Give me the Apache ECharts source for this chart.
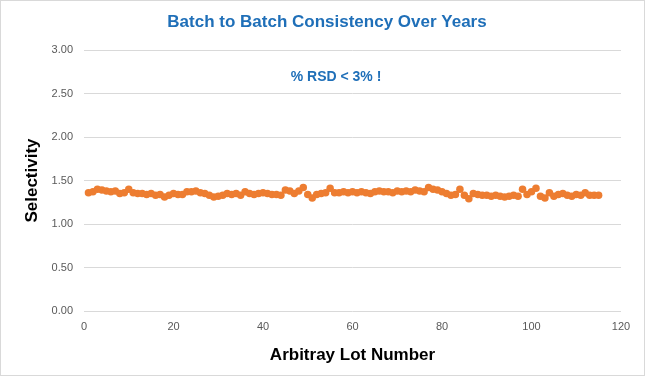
<!DOCTYPE html>
<html>
<head>
<meta charset="utf-8">
<script src="https://cdn.jsdelivr.net/npm/echarts@6/dist/echarts.min.js"></script>
<style>
  html, body { margin: 0; padding: 0; background: #fff; }
  #frame { width: 645px; height: 376px; box-sizing: border-box; border: 1px solid #d9d9d9; }
  #chart { width: 643px; height: 374px; }
</style>
</head>
<body>
<div id="frame"><div id="chart"></div></div>
<script>
// lot numbers 1..115 and the selectivity
const selectivity = [
  1.36, 1.37, 1.40, 1.39, 1.38, 1.37, 1.38, 1.35, 1.36, 1.40,
  1.36, 1.35, 1.35, 1.34, 1.35, 1.33, 1.34, 1.31, 1.33, 1.35,
  1.34, 1.34, 1.37, 1.37, 1.38, 1.36, 1.35, 1.33, 1.31, 1.32,
  1.33, 1.35, 1.34, 1.35, 1.33, 1.37, 1.35, 1.34, 1.35, 1.36,
  1.35, 1.34, 1.34, 1.33, 1.39, 1.38, 1.35, 1.38, 1.42, 1.34,
  1.30, 1.34, 1.35, 1.36, 1.41, 1.36, 1.36, 1.37, 1.36, 1.37,
  1.36, 1.37, 1.36, 1.35, 1.37, 1.38, 1.37, 1.37, 1.36, 1.38,
  1.37, 1.38, 1.37, 1.39, 1.38, 1.37, 1.42, 1.40, 1.39, 1.37,
  1.35, 1.33, 1.34, 1.40, 1.33, 1.29, 1.35, 1.34, 1.33, 1.33,
  1.32, 1.33, 1.32, 1.31, 1.32, 1.33, 1.32, 1.40, 1.34, 1.37,
  1.41, 1.32, 1.30, 1.36, 1.32, 1.34, 1.35, 1.33, 1.32, 1.34,
  1.33, 1.36, 1.33, 1.33, 1.33
];
const lots = selectivity.map((_, i) => i + 1);

const titleText = 'Batch to Batch Consistency Over Years';
const noteText = '% RSD < 3% !';
const xName = 'Arbitray Lot Number';
const yName = 'Selectivity';

const font = "'Liberation Sans', Arial, sans-serif";

const chart = echarts.init(document.getElementById('chart'));

chart.setOption({
  animation: false,
  backgroundColor: '#fff',
  textStyle: { fontFamily: font },
  title: [
    {
      text: titleText,
      left: 321,
      top: 8,
      textAlign: 'center',
      textStyle: { fontFamily: font, fontSize: 17, fontWeight: 'bold', color: '#1F6FB8' },
    },
    {
      text: noteText,
      left: 330,
      top: 64,
      textAlign: 'center',
      textStyle: { fontFamily: font, fontSize: 14, fontWeight: 'bold', color: '#1F6FB8' },
    },
  ],
  grid: { left: 83, right: 23, top: 49, bottom: 64 },
  xAxis: {
    type: 'value',
    min: 0,
    max: 120,
    interval: 20,
    name: xName,
    nameLocation: 'middle',
    nameGap: 36,
    nameTextStyle: { fontFamily: font, fontSize: 17, fontWeight: 'bold', color: '#000' },
    axisLine: { show: false },
    axisTick: { show: false },
    splitLine: { show: false },
    axisLabel: { color: '#595959', fontSize: 11, margin: 10 },
  },
  yAxis: {
    type: 'value',
    min: 0,
    max: 3,
    interval: 0.5,
    name: yName,
    nameLocation: 'middle',
    nameGap: 39,
    nameTextStyle: { fontFamily: font, fontSize: 17, fontWeight: 'bold', color: '#000' },
    axisLine: { show: false },
    axisTick: { show: false },
    splitLine: { lineStyle: { color: '#d9d9d9', width: 1 } },
    axisLabel: { color: '#595959', fontSize: 11, margin: 11, formatter: (v) => v.toFixed(2) },
  },
  series: [
    {
      type: 'scatter',
      data: lots.map((lot, i) => [lot, selectivity[i]]),
      symbol: 'circle',
      symbolSize: 7.5,
      itemStyle: { color: '#ED7D31', opacity: 1 },
    },
  ],
});
</script>
</body>
</html>
